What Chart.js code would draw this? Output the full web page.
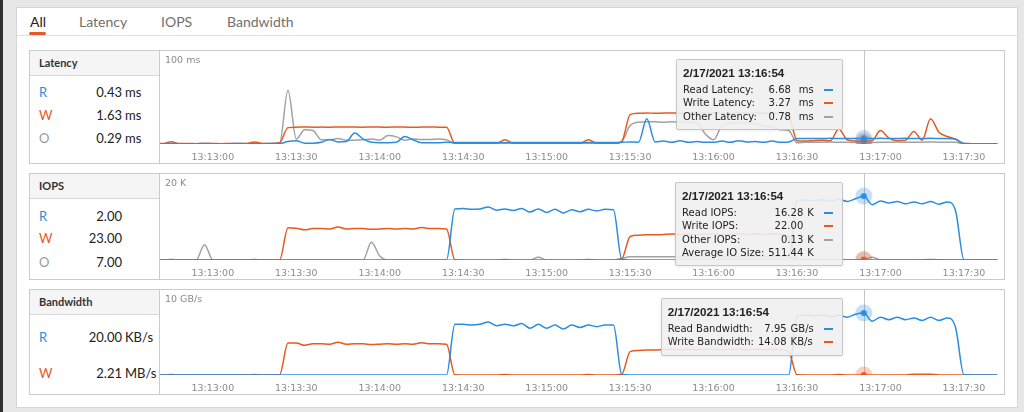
<!DOCTYPE html>
<html>
<head>
<meta charset="utf-8">
<script src="https://cdn.jsdelivr.net/npm/chart.js@4.4.1/dist/chart.umd.min.js"></script>
<style>
  html, body { margin: 0; padding: 0; }
  body { width: 1024px; height: 412px; background: #e7e7e7; position: relative; overflow: hidden;
         font-family: Lato, 'Open Sans', sans-serif; }
  .edge { position: absolute; left: 0; top: 0; width: 3px; height: 412px; background: #2e2e2e; }
  .card { position: absolute; left: 16px; top: 7px; width: 1002px; height: 401px; background: #fff;
          border: 1px solid #d6d6d6; box-sizing: border-box; }
  .tab { position: absolute; top: 12px; font-size: 14px; line-height: 19px; color: #707070; }
  .tab.on { color: #222; }
  .tabline { position: absolute; left: 17px; top: 35px; width: 1000px; height: 1px; background: #e0e0e0; }
  .uline { position: absolute; left: 29px; top: 32px; width: 17px; height: 3px; background: #e8572a; border-radius: 2px; }

  .panel { position: absolute; left: 29px; width: 976px; border: 1px solid #cbcbcb; box-sizing: border-box; background: #fff; }
  .side { position: absolute; left: 0; top: 0; bottom: 0; width: 130px; border-right: 1px solid #cbcbcb; box-sizing: border-box; }
  .hdr { height: 24px; line-height: 24px; background: #f5f5f5; border-bottom: 1px solid #d8d8d8;
         padding-left: 9px; font-weight: 700; font-size: 11px; color: #333; }
  .row { position: absolute; left: 0; width: 129px; height: 16px; line-height: 16px; font-size: 13px; color: #222; }
  .row .k { position: absolute; left: 9px; }
  .row .n { position: absolute; left: 0; width: 92px; text-align: right; }
  .row .u { position: absolute; left: 95px; }
  .cw { position: absolute; left: 130px; top: 0; width: 844px; bottom: 0; }
  .ymax { position: absolute; left: 5px; top: 3px; font: 9.5px 'DejaVu Sans', sans-serif; line-height: 12px; color: #8a8a8a; }

  .tip { position: absolute; top: 8px; background: rgba(239,239,239,0.9); border: 1px solid #c6c6c6; border-radius: 2px;
         padding: 6px 9px 6px 6px; font-family: 'DejaVu Sans', sans-serif; font-size: 10px; color: #222;
         box-shadow: 0 1px 3px rgba(0,0,0,0.08); white-space: nowrap; }
  .tip .t { font-family: 'Liberation Sans', Arial, sans-serif; font-weight: bold; font-size: 11.6px; line-height: 14px; margin-bottom: 3px; }
  .tip table { border-collapse: collapse; }
  .tip td { padding: 0; line-height: 13.3px; height: 13.3px; }
  .tip td.v { text-align: right; padding-left: 4px; }
  .tip td.d { padding-left: 10px; }
  .tip .dash { display: inline-block; width: 9px; height: 2px; vertical-align: middle; }
</style>
</head>
<body>
<div class="edge"></div>
<div class="card"></div>
<div class="tab on" style="left:30px">All</div>
<div class="tab" style="left:79px">Latency</div>
<div class="tab" style="left:161px">IOPS</div>
<div class="tab" style="left:227px">Bandwidth</div>
<div class="tabline"></div>
<div class="uline"></div>

<div class="panel" style="top:50px;height:114px">
  <div class="side" id="side-lat"><div class="hdr">Latency</div></div>
  <div class="cw" id="cw-lat"><canvas id="c-lat"></canvas><div class="ymax">100 ms</div></div>
</div>
<div class="panel" style="top:173px;height:107px">
  <div class="side" id="side-iops"><div class="hdr">IOPS</div></div>
  <div class="cw" id="cw-iops"><canvas id="c-iops"></canvas><div class="ymax">20 K</div></div>
</div>
<div class="panel" style="top:289px;height:106px">
  <div class="side" id="side-bw"><div class="hdr">Bandwidth</div></div>
  <div class="cw" id="cw-bw"><canvas id="c-bw"></canvas><div class="ymax">10 GB/s</div></div>
</div>

<script>
// ---- data (3 s samples starting 13:12:39) ----
const firstSample = '13:12:39';
const sampleStep = 3;
const viewStart = '13:12:41';
const viewSeconds = 303.4;
const tickLabels = ['13:13:00','13:13:30','13:14:00','13:14:30','13:15:00','13:15:30','13:16:00','13:16:30','13:17:00','13:17:30'];
const hoverDate = '2/17/2021';
const hoverTime = '13:16:54';

// latency, ms
const latRead = [0.4,0.4,0.5,0.4,0.4,0.4,0.5,0.4,0.4,0.4,0.5,0.4,0.4,0.4,0.5,0.6,
  3,4,1,1,2,5.5,2.5,3,13,6,2,1.5,1.5,2,9,5,1.5,1.5,1.5,2,
  1.8,1.7,1.8,1.9,1.7,1.8,1.6,1.8,1.9,1.7,1.8,1.8,1.7,1.9,1.8,1.7,1.8,1.9,1.7,1.8,
  2,2.5,2,30,2.5,3.5,2,4,2,3,2,2,3.5,2,4,2.5,3,2,3.5,2,2.5,
  6.4,6.5,6.6,6.5,6.7,6.6,6.5,6.6,6.68,6.6,6.7,6.5,6.6,6.7,6.5,6.6,6.7,6.6,6.5,5.5,
  0.6,0.4,0.4,0.4,0.4];
const latWrite = [0.5,0.5,2.8,0.5,0.5,0.4,0.5,0.5,0.4,0.5,0.5,0.5,2.5,0.5,0.5,1.5,
  19.5,20,20.2,20,20.1,20,20.2,20.3,20.1,20,20.2,20.1,20,20.2,20.1,20,20.1,20.2,20,19.8,
  0.6,0.4,0.5,0.4,0.4,0.5,5,0.8,0.4,0.5,0.4,0.4,0.5,0.4,0.4,0.5,5,0.8,0.4,0.4,
  3,35,36.5,37,36.5,36.8,37,36.6,36.8,37,36.5,36.8,37,36.6,36.8,36.5,36.8,36.6,36.5,36.8,34,
  4,3.5,4,4.5,4,18,5,3.5,3.27,4,16,7,4,4.5,15,4.5,30,14,9,6,
  0.6,0.4,0.4,0.4,0.4];
const latOther = [0.3,0.3,0.3,0.3,0.3,0.3,0.3,0.3,0.3,0.3,0.3,0.3,0.3,0.3,0.3,0.8,
  64,6,17,16,5,5,6.5,4.5,4.5,5,6,4.5,10,8.5,4.5,6,5.5,5.5,6,5,
  0.5,0.3,0.3,0.3,0.3,0.3,0.3,0.3,0.3,0.3,0.3,0.3,0.3,0.3,0.3,0.3,0.3,0.3,0.3,0.3,
  3,22,26,26.5,26.5,26,26.5,26,26,25,12,5,22,25,25.5,25,24,22,20,17,16,
  1.5,2,2.2,2,2.3,2,2.2,1.8,0.78,1.8,2.2,2,2.3,2.1,2,2.2,2.4,2.1,2.2,2,
  0.3,0.3,0.3,0.3,0.3];

// IOPS, thousands
const iopsRead = [0,0,0,0,0,0,0,0,0,0,0,0,0,0,0,0,
  0,0,0,0,0,0,0,0,0,0,0,0,0,0,0,0,0,0,0,0,
  13.0,13.1,12.9,13.0,13.5,12.7,13.0,12.6,13.1,12.2,13.0,12.1,12.9,12.0,12.8,12.3,12.9,12.5,12.9,12.8,
  0.1,0,0,0,0,0,0,0,0,0,0,0,0,0,0,0,0,0,0,0,0,
  15.2,15.3,15.1,15.4,15.0,15.5,14.9,15.6,16.28,14.1,15.0,14.5,14.9,14.3,14.8,14.3,14.9,14.2,14.8,12.5,
  0.05,0,0,0,0];
const iopsWrite = [0.02,0.02,0.15,0.02,0.02,0.02,0.02,0.02,0.02,0.02,0.02,0.02,0.15,0.02,0.02,0.05,
  8.2,8.1,7.7,8.0,8.0,7.9,8.4,7.9,8.0,8.0,7.8,7.9,8.0,7.9,8.0,7.9,8.3,8.0,8.0,7.9,
  0.05,0.02,0.02,0.02,0.02,0.02,0.1,0.02,0.02,0.02,0.02,0.02,0.02,0.02,0.02,0.02,0.1,0.02,0.02,0.02,
  0.3,6.0,6.3,6.4,6.4,6.5,6.6,6.5,6.6,6.5,6.6,6.6,6.5,6.6,6.6,6.5,6.6,6.5,6.6,6.5,6.0,
  0.03,0.02,0.02,0.02,0.02,0.02,0.02,0.02,0.022,0.02,0.02,0.02,0.02,0.02,0.02,0.08,0.1,0.08,0.02,0.02,
  0.02,0.02,0.02,0.02,0.02];
const iopsOther = [0.02,0.02,0.02,0.02,0.02,0.02,3.9,
  0.02,0.02,0.02,0.02,0.02,0.02,0.02,0.02,0.02,0.02,0.02,0.02,0.02,0.02,0.02,0.02,0.02,0.02,0.02,
  4.5,1.0,
  0.02,0.02,0.02,0.02,0.02,0.02,0.02,0.02,0.02,0.02,0.02,0.02,0.02,0.02,0.02,0.02,0.02,0.02,
  0.7,
  0.02,0.02,0.02,0.02,0.02,0.02,0.02,0.02,0.02,
  0.4,0.85,0.85,0.85,0.85,0.85,0.85,0.85,0.85,0.85,0.85,0.85,0.85,0.85,0.85,0.85,0.85,0.85,0.85,0.85,0.85,
  0.05,0.05,0.05,0.05,0.05,0.05,0.05,0.05,0.13,0.7,
  0.05,0.05,0.05,0.05,0.05,0.05,0.05,0.05,0.05,0.05,0.05,0.05,0.05,0.05,0.05];
const avgIoSizeK = 511.44;

// bandwidth, GB/s
const bwRead = [0,0,0,0,0,0,0,0,0,0,0,0,0,0,0,0,
  0,0,0,0,0,0,0,0,0,0,0,0,0,0,0,0,0,0,0,0,
  6.5,6.5,6.4,6.5,6.8,6.3,6.5,6.3,6.6,6.0,6.5,6.0,6.4,5.9,6.4,6.1,6.4,6.2,6.4,6.4,
  0.05,0,0,0,0,0,0,0,0,0,0,0,0,0,0,0,0,0,0,0,0,
  7.6,7.7,7.6,7.7,7.5,7.7,7.4,7.8,7.95,6.9,7.4,7.1,7.4,7.1,7.3,7.0,7.4,7.0,7.3,6.1,
  0.02,0,0,0,0];
const bwWrite = [0,0,0.05,0,0,0,0,0,0,0,0,0,0.05,0,0,0.02,
  4.1,4.1,3.8,4.0,4.0,3.95,4.2,3.95,4.0,4.0,3.9,3.95,4.0,3.95,4.0,3.95,4.15,4.0,4.0,3.95,
  0.02,0,0,0,0,0,0.08,0,0,0,0,0,0,0,0,0,0.08,0,0,0,
  0.1,3.0,3.15,3.2,3.2,3.25,3.3,3.25,3.3,3.25,3.3,3.3,3.25,3.3,3.3,3.25,3.3,3.25,3.3,3.25,3.0,
  0.02,0,0,0,0,0.08,0,0,0.00001408,0,0,0,0,0,0.1,0.1,0.1,0,0,0,
  0,0,0,0,0];

// current values in the side boxes
const latNow = [['R','0.43','ms'],['W','1.63','ms'],['O','0.29','ms']];
const iopsNow = [['R','2.00',''],['W','23.00',''],['O','7.00','']];
const bwNow = [['R','20.00','KB/s'],['W','2.21','MB/s']];

// ---- helpers ----
const READ = '#2b8de0', WRITE = '#e8591d', OTHER = '#a2a2a2';
const keyColor = { R: READ, W: WRITE, O: '#9a9a9a' };

function toSec(s) { const p = s.split(':').map(Number); return p[0] * 3600 + p[1] * 60 + p[2]; }
function fmtSec(v) {
  const h = Math.floor(v / 3600), m = Math.floor((v % 3600) / 60), s = Math.round(v % 60);
  return h + ':' + String(m).padStart(2, '0') + ':' + String(s).padStart(2, '0');
}

const times = latRead.map((_, i) => toSec(firstSample) + i * sampleStep);
const hoverSec = toSec(hoverTime);
const hoverIdx = times.indexOf(hoverSec);
const tickSecs = tickLabels.map(toSec);

function haloDot(color, halo) {
  const c = document.createElement('canvas');
  c.width = 20; c.height = 20;
  const g = c.getContext('2d');
  g.fillStyle = halo; g.beginPath(); g.arc(10, 10, 8.5, 0, Math.PI * 2); g.fill();
  g.fillStyle = color; g.beginPath(); g.arc(10, 10, 3, 0, Math.PI * 2); g.fill();
  return c;
}
const dots = {
  [READ]: haloDot(READ, 'rgba(43,141,224,0.28)'),
  [WRITE]: haloDot(WRITE, 'rgba(232,89,29,0.28)'),
  [OTHER]: haloDot(OTHER, 'rgba(150,150,150,0.25)')
};

const hoverLine = {
  id: 'hoverLine',
  beforeDatasetsDraw(chart) {
    const x = Math.round(chart.scales.x.getPixelForValue(hoverSec)) + 0.5;
    const { top, bottom } = chart.chartArea;
    const ctx = chart.ctx;
    ctx.save();
    ctx.strokeStyle = '#c4c4c4';
    ctx.lineWidth = 1;
    ctx.beginPath(); ctx.moveTo(x, top); ctx.lineTo(x, bottom); ctx.stroke();
    ctx.restore();
  }
};

function fillSide(id, rows, tops) {
  const side = document.getElementById(id);
  rows.forEach((r, i) => {
    const el = document.createElement('div');
    el.className = 'row';
    el.style.top = tops[i] + 'px';
    el.innerHTML = `<span class="k" style="color:${keyColor[r[0]]}">${r[0]}</span>` +
      `<span class="n">${r[1]}</span><span class="u">${r[2]}</span>`;
    side.appendChild(el);
  });
}

function lineChart(id, series, yMax) {
  return new Chart(document.getElementById(id), {
    type: 'line',
    data: {
      labels: times,
      datasets: series.map(s => ({
        data: s.data,
        borderColor: s.color,
        borderWidth: 1.5,
        fill: false,
        cubicInterpolationMode: 'monotone',
        pointRadius: ctx => ctx.dataIndex === hoverIdx ? 3 : 0,
        pointStyle: ctx => ctx.dataIndex === hoverIdx ? dots[s.color] : 'circle'
      }))
    },
    options: {
      responsive: true,
      maintainAspectRatio: false,
      animation: false,
      events: [],
      layout: { padding: 0 },
      plugins: { legend: { display: false }, tooltip: { enabled: false } },
      scales: {
        x: {
          type: 'linear',
          min: toSec(viewStart),
          max: toSec(viewStart) + viewSeconds,
          grid: { display: false, drawTicks: false },
          border: { display: false },
          afterBuildTicks: s => { s.ticks = tickSecs.map(v => ({ value: v })); },
          afterFit: s => { s.height = 19; },
          ticks: {
            padding: 8, maxRotation: 0, autoSkip: false, color: '#8c8c8c',
            font: { family: "'DejaVu Sans'", size: 9.5 },
            callback: v => fmtSec(v)
          }
        },
        y: { display: false, min: 0, max: yMax }
      }
    },
    plugins: [hoverLine]
  });
}

function addTip(wrapId, chart, rows, opt) {
  const wrap = document.getElementById(wrapId);
  const px = chart.scales.x.getPixelForValue(hoverSec);
  const tip = document.createElement('div');
  tip.className = 'tip';
  tip.style.right = (wrap.clientWidth - px + 21) + 'px';
  let html = `<div class="t">${hoverDate} ${hoverTime}</div><table>`;
  rows.forEach(r => {
    html += `<tr><td>${r.label}</td><td class="v" style="min-width:${opt.vw}px">${r.value}</td>` +
      `<td style="padding-left:${opt.ug}px">${r.unit}</td>` +
      `<td class="d">${r.color ? `<span class="dash" style="background:${r.color}"></span>` : ''}</td></tr>`;
  });
  tip.innerHTML = html + '</table>';
  wrap.appendChild(tip);
}

function fmtIops(v) { return v >= 0.1 ? [v.toFixed(2), 'K'] : [(v * 1000).toFixed(2), '']; }
function fmtBw(v) {
  if (v >= 1) return [v.toFixed(2), 'GB/s'];
  if (v >= 0.001) return [(v * 1000).toFixed(2), 'MB/s'];
  return [(v * 1e6).toFixed(2), 'KB/s'];
}

// ---- build ----
fillSide('side-lat', latNow, [33, 56, 79]);
fillSide('side-iops', iopsNow, [34, 56, 80]);
fillSide('side-bw', bwNow, [39, 75]);

const latChart = lineChart('c-lat', [
  { data: latRead, color: READ }, { data: latWrite, color: WRITE }, { data: latOther, color: OTHER }
], 110.7);
const iopsChart = lineChart('c-iops', [
  { data: iopsRead, color: READ }, { data: iopsWrite, color: WRITE }, { data: iopsOther, color: OTHER }
], 21.9);
const bwChart = lineChart('c-bw', [
  { data: bwRead, color: READ }, { data: bwWrite, color: WRITE }
], 10.9);

addTip('cw-lat', latChart, [
  { label: 'Read Latency:', value: latRead[hoverIdx].toFixed(2), unit: 'ms', color: READ },
  { label: 'Write Latency:', value: latWrite[hoverIdx].toFixed(2), unit: 'ms', color: WRITE },
  { label: 'Other Latency:', value: latOther[hoverIdx].toFixed(2), unit: 'ms', color: OTHER }
], { vw: 30, ug: 8 });

const ir = fmtIops(iopsRead[hoverIdx]), iw = fmtIops(iopsWrite[hoverIdx]), io = fmtIops(iopsOther[hoverIdx]);
addTip('cw-iops', iopsChart, [
  { label: 'Read IOPS:', value: ir[0], unit: ir[1], color: READ },
  { label: 'Write IOPS:', value: iw[0], unit: iw[1], color: WRITE },
  { label: 'Other IOPS:', value: io[0], unit: io[1], color: OTHER },
  { label: 'Average IO Size:', value: avgIoSizeK.toFixed(2), unit: 'K', color: null }
], { vw: 0, ug: 4 });

const br = fmtBw(bwRead[hoverIdx]), bwv = fmtBw(bwWrite[hoverIdx]);
addTip('cw-bw', bwChart, [
  { label: 'Read Bandwidth:', value: br[0], unit: br[1], color: READ },
  { label: 'Write Bandwidth:', value: bwv[0], unit: bwv[1], color: WRITE }
], { vw: 0, ug: 4 });
</script>
</body>
</html>
